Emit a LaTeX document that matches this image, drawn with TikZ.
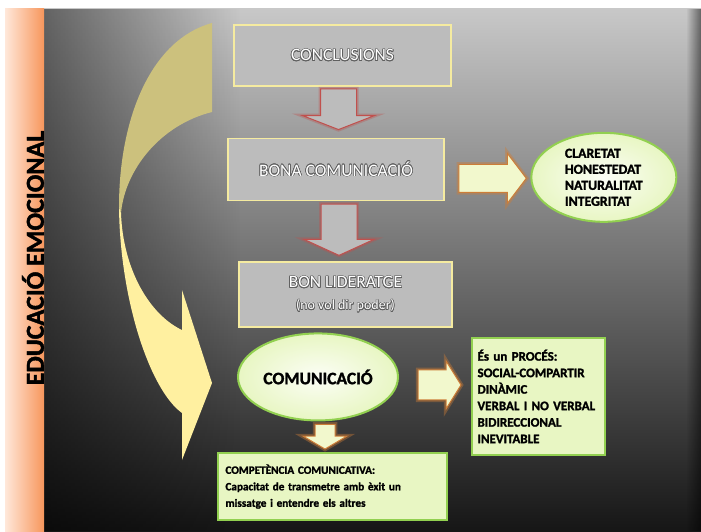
\documentclass[tikz,border=0pt]{standalone}
\usepackage{fontspec}
\setmainfont{Carlito}[BoldFeatures={FakeBold=1.6}]
\usepackage{tikz}
\usetikzlibrary{shapes,shapes.geometric,calc,fadings}
\usepackage[copies]{contour}
\contourlength{0.6pt}
\definecolor{barlight}{RGB}{255,232,218}
\definecolor{barorange}{RGB}{247,150,92}
\definecolor{bgtop}{RGB}{200,200,200}
\definecolor{bgmid}{RGB}{105,105,105}
\definecolor{bgbottom}{RGB}{22,22,22}
\definecolor{khaki}{RGB}{204,193,125}
\definecolor{paleyellow}{RGB}{255,240,160}
\definecolor{boxgray}{RGB}{188,188,188}
\definecolor{boxline}{RGB}{245,235,160}
\definecolor{arrowred}{RGB}{192,80,77}
\definecolor{arrowlight}{RGB}{242,248,205}
\definecolor{arrowbrown}{RGB}{205,125,55}
\definecolor{greenfill}{RGB}{232,246,195}
\definecolor{greenline}{RGB}{146,208,80}
\definecolor{textedge}{RGB}{95,95,95}
\tikzstyle{graybox} = [rectangle, draw=boxline, line width=1.5pt, fill=boxgray, text=white, font=\fontsize{17.5}{22}\selectfont, align=center]
\tikzstyle{greenbox} = [rectangle, draw=greenline, line width=2pt, fill=greenfill, align=left, font=\bfseries]
\tikzstyle{greenoval} = [ellipse, draw=greenline, line width=2pt, inner color=white!85!greenfill, outer color=greenfill, inner sep=0pt, align=left, font=\bfseries]
\tikzstyle{downarrow} = [fill=boxgray, draw=arrowred, line width=1pt, preaction={draw=arrowred, line width=4pt, draw opacity=0.35}]
\tikzstyle{rightarrow} = [fill=arrowlight, draw=arrowbrown, line width=1pt, preaction={draw=arrowbrown, line width=4.5pt, draw opacity=0.4}]

\begin{document}
\begin{tikzpicture}[x=1pt, y=-1pt, node distance=4cm]
\useasboundingbox (0,0) rectangle (701,531);
%
% Background
%
\fill[white] (0,0) rectangle (701,531);
\shade[top color=bgtop, middle color=bgmid, bottom color=bgbottom] (44,8) rectangle (701,531);
\fill[black, path fading=east, fill opacity=0.5] (44,8) rectangle (240,531);
\fill[black, path fading=west, fill opacity=0.5] (686,8) rectangle (701,531);
\shade[left color=barlight, right color=barorange] (5,8) rectangle (44,531);
\node (title) [rotate=90, font=\fontsize{26}{30}\selectfont\bfseries] at (33,258) {EDUCACIÓ EMOCIONAL};
%
% Curved arrow
%
\fill[khaki] (212,23) .. controls (150,40) and (119,120) .. (119,207) -- (121,213) .. controls (125,170) and (160,125) .. (212,112) -- cycle;
\fill[paleyellow] (119,207) .. controls (120,300) and (150,390) .. (182,413) -- (182,460) -- (212,383) -- (182,290) -- (182,330) .. controls (150,315) and (123,270) .. (121,213) -- cycle;
%
% Define nodes
%
\node (conclusions) [graybox, minimum width=217pt, minimum height=61pt] at (342.5,55.5) {\contour{textedge}{CONCLUSIONS}};
\node (bona) [graybox, below of=conclusions, xshift=-6.5pt, minimum width=216pt, minimum height=62pt] {\contour{textedge}{BONA COMUNICACIÓ}};
\node (lider) [graybox, below of=bona, xshift=9.5pt, yshift=-11.5pt, minimum width=213pt, minimum height=65pt]
{\contour{textedge}{BON LIDERATGE}\\ \fontsize{14}{18}\selectfont\contour{textedge}{(no vol dir poder)}};
\node (comunicacio) [greenoval, below of=lider, xshift=-27.5pt, yshift=31.5pt, minimum width=160pt, minimum height=87pt, font=\fontsize{17.5}{20}\selectfont\bfseries] {COMUNICACIÓ};
\node (competencia) [greenbox, below of=comunicacio, xshift=14.5pt, yshift=4.2pt, minimum width=229pt, minimum height=67pt, text width=214pt, inner sep=0pt, font=\fontsize{11.2}{16.5}\selectfont\bfseries]
{COMPETÈNCIA COMUNICATIVA:\\
Capacitat de transmetre amb èxit un\\
missatge i entendre els altres};
\node (qualitats) [greenoval, right of=bona, xshift=154pt, yshift=-8pt, minimum width=145pt, minimum height=89pt, font=\fontsize{13.8}{16}\selectfont\bfseries]
{CLARETAT\\ HONESTEDAT\\ NATURALITAT\\ INTEGRITAT};
\node (proces) [greenbox, right of=comunicacio, xshift=106.7pt, yshift=-19.5pt, minimum width=133pt, minimum height=117pt, text width=122pt, inner sep=0pt, font=\fontsize{13}{16.5}\selectfont\bfseries]
{És un PROCÉS:\\ SOCIAL-COMPARTIR\\ DINÀMIC\\ \mbox{VERBAL I NO VERBAL}\\ BIDIRECCIONAL\\ INEVITABLE};
%
% Connect nodes
%
\draw [downarrow] ($(conclusions.south)+(-22,2)$) -- ($(conclusions.south |- bona.north)+(-22,-22)$) -- ($(conclusions.south |- bona.north)+(-40,-22)$) -- ($(conclusions.south |- bona.north)+(-4,-8)$) -- ($(conclusions.south |- bona.north)+(32,-22)$) -- ($(conclusions.south |- bona.north)+(14,-22)$) -- ($(conclusions.south)+(14,2)$) -- cycle;
\draw [downarrow] ($(bona.south)+(-15,3)$) -- ($(bona.south |- lider.north)+(-15,-22)$) -- ($(bona.south |- lider.north)+(-32,-22)$) -- ($(bona.south |- lider.north)+(3,-6)$) -- ($(bona.south |- lider.north)+(38,-22)$) -- ($(bona.south |- lider.north)+(21,-22)$) -- ($(bona.south)+(21,3)$) -- cycle;
\draw [rightarrow] ($(bona.east)+(14,-5)$) -- ($(qualitats.west |- bona.east)+(-23,-5)$) -- ($(qualitats.west |- bona.east)+(-23,-16)$) -- ($(qualitats.west |- bona.east)+(-4,9)$) -- ($(qualitats.west |- bona.east)+(-23,34)$) -- ($(qualitats.west |- bona.east)+(-23,23)$) -- ($(bona.east)+(14,23)$) -- cycle;
\draw [rightarrow] ($(comunicacio.east)+(19,-7)$) -- ($(proces.west |- comunicacio.east)+(-25,-7)$) -- ($(proces.west |- comunicacio.east)+(-25,-16)$) -- ($(proces.west |- comunicacio.east)+(-10,8)$) -- ($(proces.west |- comunicacio.east)+(-25,32)$) -- ($(proces.west |- comunicacio.east)+(-25,23)$) -- ($(comunicacio.east)+(19,23)$) -- cycle;
\draw [rightarrow] ($(comunicacio.south)+(-3,3)$) -- ($(comunicacio.south |- competencia.north)+(-3,-16)$) -- ($(comunicacio.south |- competencia.north)+(-15,-16)$) -- ($(comunicacio.south |- competencia.north)+(7,-3)$) -- ($(comunicacio.south |- competencia.north)+(29,-16)$) -- ($(comunicacio.south |- competencia.north)+(17,-16)$) -- ($(comunicacio.south)+(17,3)$) -- cycle;
\end{tikzpicture}
\end{document}
